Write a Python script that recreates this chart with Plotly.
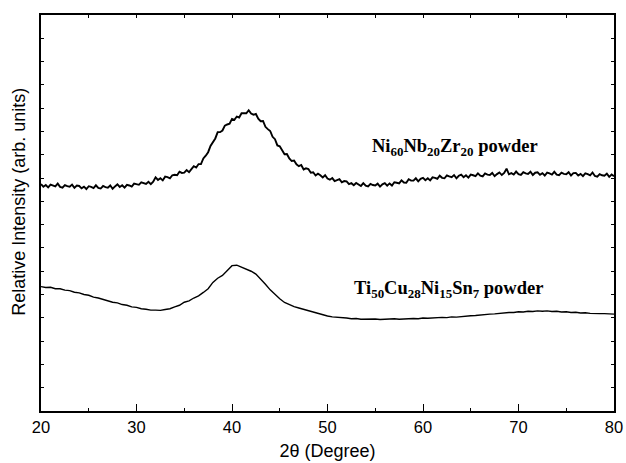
import plotly.graph_objects as go

# Ni60Nb20Zr20 powder: 2theta from 20 to 80, step 0.25
ni_start, ni_step = 20.0, 0.25
ni_intensity = [
    9.74, 9.63, 9.70, 9.60, 9.72, 9.69, 9.64, 9.76,
    9.62, 9.59, 9.70, 9.65, 9.63, 9.72, 9.58, 9.68,
    9.66, 9.56, 9.63, 9.53, 9.65, 9.62, 9.57, 9.69,
    9.58, 9.55, 9.66, 9.61, 9.59, 9.68, 9.54, 9.64,
    9.73, 9.62, 9.69, 9.59, 9.71, 9.68, 9.63, 9.76,
    9.74, 9.71, 9.82, 9.77, 9.75, 9.84, 9.74, 9.84,
    10.03, 9.92, 9.99, 9.90, 10.06, 10.04, 9.99, 10.12,
    10.14, 10.12, 10.27, 10.22, 10.23, 10.34, 10.25, 10.38,
    10.51, 10.45, 10.60, 10.60, 10.84, 10.96, 11.11, 11.38,
    11.52, 11.70, 11.97, 11.97, 12.04, 12.25, 12.30, 12.33,
    12.54, 12.50, 12.64, 12.60, 12.78, 12.79, 12.78, 12.91,
    12.77, 12.72, 12.75, 12.55, 12.44, 12.45, 12.20, 12.10,
    12.02, 11.77, 11.67, 11.40, 11.36, 11.19, 11.02, 11.03,
    10.84, 10.73, 10.75, 10.59, 10.51, 10.56, 10.37, 10.42,
    10.39, 10.23, 10.25, 10.11, 10.19, 10.12, 10.03, 10.12,
    9.98, 9.93, 10.00, 9.87, 9.91, 9.95, 9.82, 9.87,
    9.86, 9.74, 9.78, 9.69, 9.79, 9.74, 9.66, 9.78,
    9.67, 9.64, 9.75, 9.70, 9.68, 9.76, 9.63, 9.73,
    9.78, 9.67, 9.77, 9.68, 9.82, 9.80, 9.77, 9.90,
    9.81, 9.80, 9.95, 9.89, 9.89, 9.99, 9.86, 9.97,
    10.01, 9.91, 9.99, 9.90, 10.03, 10.01, 9.97, 10.10,
    10.01, 9.99, 10.11, 10.07, 10.04, 10.13, 9.99, 10.10,
    10.15, 10.04, 10.12, 10.02, 10.15, 10.12, 10.08, 10.20,
    10.10, 10.07, 10.20, 10.15, 10.13, 10.22, 10.08, 10.17,
    10.24, 10.13, 10.22, 10.40, 10.16, 10.21, 10.15, 10.28,
    10.17, 10.14, 10.25, 10.20, 10.18, 10.27, 10.13, 10.23,
    10.25, 10.14, 10.21, 10.11, 10.23, 10.20, 10.15, 10.27,
    10.15, 10.12, 10.23, 10.18, 10.16, 10.25, 10.11, 10.21,
    10.22, 10.11, 10.18, 10.08, 10.20, 10.17, 10.12, 10.24,
    10.09, 10.06, 10.17, 10.12, 10.10, 10.19, 10.05, 10.15,
    10.08,
]

# Ti50Cu28Ni15Sn7 powder: 2theta from 20 to 80, step 0.5
ti_start, ti_step = 20.0, 0.5
ti_intensity = [
    5.34, 5.30, 5.31, 5.25, 5.25, 5.19, 5.17, 5.10, 5.07, 5.00, 4.97, 4.89,
    4.85, 4.78, 4.74, 4.67, 4.64, 4.57, 4.54, 4.47, 4.45, 4.39, 4.37, 4.33,
    4.33, 4.32, 4.36, 4.39, 4.47, 4.54, 4.67, 4.73, 4.85, 4.94, 5.09, 5.25,
    5.52, 5.70, 5.82, 6.02, 6.24, 6.26, 6.18, 6.10, 6.00, 5.88, 5.68, 5.44,
    5.20, 5.00, 4.82, 4.66, 4.56, 4.48, 4.42, 4.36, 4.30, 4.24, 4.20, 4.14,
    4.08, 4.04, 4.03, 3.99, 3.99, 3.96, 3.97, 3.94, 3.95, 3.93, 3.95, 3.93,
    3.95, 3.94, 3.96, 3.94, 3.96, 3.95, 3.97, 3.96, 3.99, 3.98, 4.00, 3.99,
    4.02, 4.01, 4.04, 4.03, 4.06, 4.06, 4.09, 4.10, 4.13, 4.13, 4.16, 4.17,
    4.20, 4.20, 4.23, 4.23, 4.26, 4.25, 4.28, 4.27, 4.30, 4.28, 4.30, 4.27,
    4.28, 4.25, 4.26, 4.23, 4.24, 4.21, 4.22, 4.19, 4.20, 4.18, 4.18, 4.16,
    4.16,
]

ni_x = [ni_start + i * ni_step for i in range(len(ni_intensity))]
ti_x = [ti_start + i * ti_step for i in range(len(ti_intensity))]

x_ticks = [20, 30, 40, 50, 60, 70, 80]
labels = {
    "ni": ("Ni<sub>60</sub>Nb<sub>20</sub>Zr<sub>20</sub> powder", 63.35, 11.33),
    "ti": ("Ti<sub>50</sub>Cu<sub>28</sub>Ni<sub>15</sub>Sn<sub>7</sub> powder", 62.7, 5.2),
}

fig = go.Figure()
fig.add_trace(go.Scatter(x=ni_x, y=ni_intensity, mode="lines",
                         line=dict(color="black", width=1.9), showlegend=False))
fig.add_trace(go.Scatter(x=ti_x, y=ti_intensity, mode="lines",
                         line=dict(color="black", width=1.4), showlegend=False))
# invisible helper trace to display the top tick axis
fig.add_trace(go.Scatter(x=ti_x, y=ti_intensity, mode="lines", xaxis="x2",
                         line=dict(color="rgba(0,0,0,0)", width=0),
                         showlegend=False, hoverinfo="skip"))

for key, (txt, xx, yy) in labels.items():
    fig.add_annotation(x=xx, y=yy, text="<b>" + txt + "</b>", showarrow=False,
                       font=dict(family="Liberation Serif", size=18.5, color="black"),
                       xanchor="center", yanchor="middle")

# y-axis title, placed as a rotated annotation
fig.add_annotation(x=-0.0375, y=0.527, xref="paper", yref="paper",
                   text="Relative Intensity (arb. units)", textangle=-90,
                   showarrow=False, xanchor="center", yanchor="middle",
                   font=dict(size=18, family="Liberation Sans", color="black"))

fig.update_layout(
    width=626, height=463,
    margin=dict(l=41, r=12, t=15, b=52, autoexpand=False),
    paper_bgcolor="white", plot_bgcolor="white",
    font=dict(family="Liberation Sans", color="black"),
    xaxis=dict(range=[20, 80], tickvals=x_ticks, ticks="inside", ticklen=7,
               tickwidth=1.2, tickcolor="black", automargin=False,
               minor=dict(dtick=5, ticks="inside", ticklen=3.5, tickwidth=1.2, tickcolor="black"),
               showline=True, linecolor="black", linewidth=1.5, mirror=True,
               showgrid=False, zeroline=False,
               tickfont=dict(size=16.5, family="Liberation Sans"),
               title=dict(text="2θ (Degree)", font=dict(size=18, family="Liberation Sans"),
                          standoff=10)),
    xaxis2=dict(range=[20, 80], overlaying="x", side="top", dtick=5, tick0=20,
                ticks="inside", ticklen=3, tickwidth=1.2, tickcolor="black",
                showticklabels=False, showgrid=False, zeroline=False, showline=False),
    yaxis=dict(range=[0, 17], dtick=1, tick0=0, ticks="inside", ticklen=3,
               tickwidth=1.2, tickcolor="black", showticklabels=False, automargin=False,
               showline=True, linecolor="black", linewidth=1.5, mirror="ticks",
               showgrid=False, zeroline=False),
)

fig.write_html("out.html")
